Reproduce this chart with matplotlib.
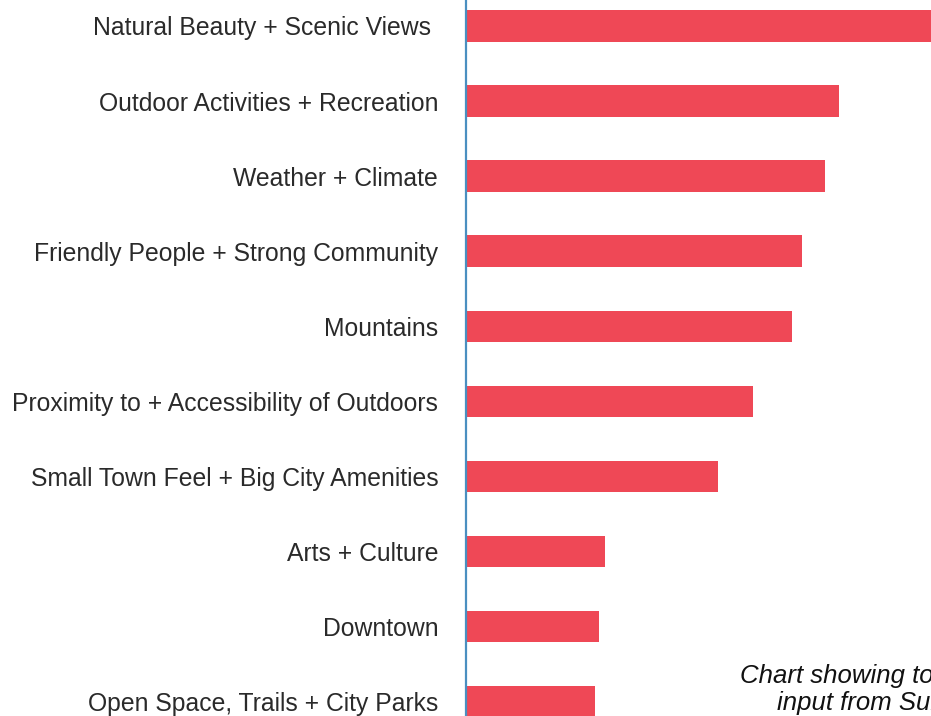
import matplotlib
matplotlib.use("Agg")
import matplotlib.pyplot as plt

categories = [
    "Natural Beauty + Scenic Views ",
    "Outdoor Activities + Recreation",
    "Weather + Climate",
    "Friendly People + Strong Community",
    "Mountains",
    "Proximity to + Accessibility of Outdoors",
    "Small Town Feel + Big City Amenities",
    "Arts + Culture",
    "Downtown",
    "Open Space, Trails + City Parks",
]
values = [490, 373, 359, 336, 326, 287, 252, 139, 133, 129]

caption_line1 = "Chart showing top"
caption_line2 = "input from Survey"

plt.rcParams['font.family'] = ['Liberation Sans', 'DejaVu Sans']

fig = plt.figure(figsize=(9.31, 7.16), dpi=100)
ax = fig.add_axes([466 / 931, 0.0, 1 - 466 / 931, 1.0])

ypos = list(range(len(categories)))
ax.barh(ypos, values, height=0.42, color="#EF4856", zorder=2)

ax.set_xlim(0, 465)
ax.set_ylim(9.19, -0.346)
ax.set_yticks(ypos)
ax.set_yticklabels(categories, fontsize=17.8, color="#2a2a2a")
ax.tick_params(axis="y", length=0, pad=20)
ax.set_xticks([])
for s in ["top", "right", "bottom"]:
    ax.spines[s].set_visible(False)
ax.spines["left"].set_color("#4a8fc0")
ax.spines["left"].set_linewidth(1.6)
ax.spines["left"].set_zorder(3)

fig.text(740 / 931, 1 - 676 / 716, caption_line1, fontsize=18.5, style="italic",
         color="#111111", ha="left", va="center")
fig.text(777 / 931, 1 - 703 / 716, caption_line2, fontsize=18.5, style="italic",
         color="#111111", ha="left", va="center")

fig.savefig("out.png", dpi=100)
